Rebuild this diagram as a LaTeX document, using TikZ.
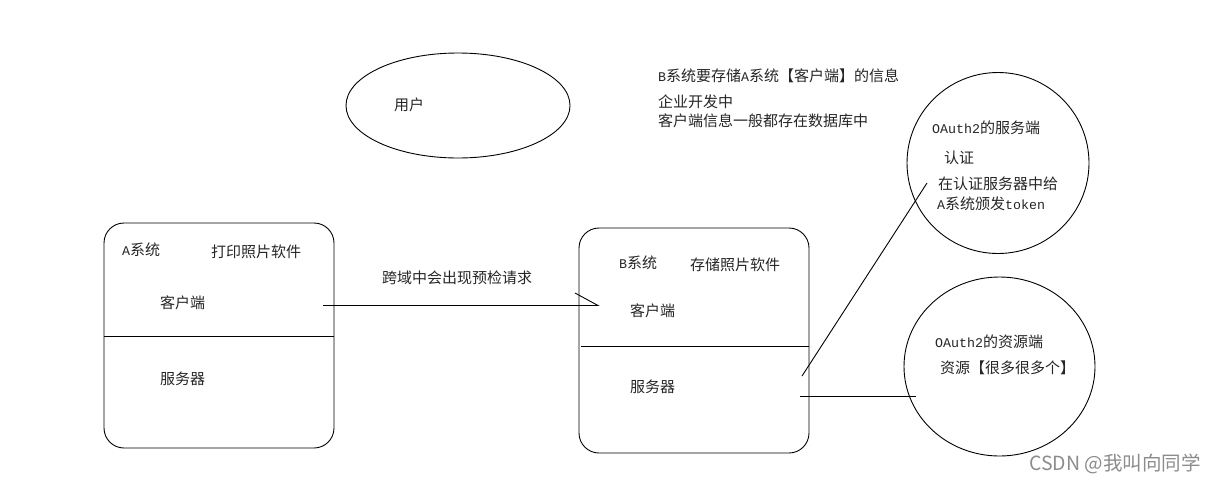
\documentclass[tikz,border=0pt]{standalone}
\usepackage{fontspec}
\usetikzlibrary{shapes.geometric}
\setmainfont{Noto Sans CJK SC}
\newfontfamily\latinf{Liberation Mono}
\newcommand{\Lt}[1]{{\latinf\fontsize{13.3pt}{14pt}\selectfont #1}}
\tikzset{
 label/.style={font=\fontsize{15pt}{16pt}\selectfont,inner sep=0pt,anchor=west,text=black!85},
 conn/.style={draw=black,line width=0.9pt},
 sysbox/.style={draw=black,line width=0.9pt,rounded corners=20pt},
 oval/.style={draw=black,line width=0.9pt,ellipse,inner sep=0pt,anchor=center},
 mark text/.style={font=\fontsize{19.5pt}{21pt}\selectfont,inner sep=0pt,anchor=west,text=black!45}
}
\begin{document}
\begin{tikzpicture}[x=1pt,y=-1pt]
\useasboundingbox (0,0) rectangle (1215,483);
\fill[white] (0,0) rectangle (1215,483);
% ovals
\node[oval,minimum width=224pt,minimum height=105pt] (user) at (458,105.5) {};
\node[oval,minimum width=182pt,minimum height=181pt] (auth) at (998,163) {};
\node[oval,minimum width=191pt,minimum height=179pt] (res) at (999.5,366.5) {};
% systems
\draw[sysbox] (104,223) rectangle (334,448);
\draw[sysbox] (579,228) rectangle (809,453);
\coordinate (adivl) at (104,336);
\coordinate (adivr) at (334,336);
\coordinate (bdivl) at (581,346);
\coordinate (bdivr) at (809,346);
\draw[conn] (adivl) -- (adivr);
\draw[conn] (bdivl) -- (bdivr);
% connectors
\coordinate (reqs) at (323,305.5);
\coordinate (reqe) at (598,305.5);
\coordinate (reqh) at (575,293);
\draw[conn] (reqs) -- (reqe) -- (reqh);
\coordinate (bauth) at (802,376);
\coordinate (cauth) at (927,183);
\draw[conn] (bauth) -- (cauth);
\coordinate (bres) at (800,396.5);
\coordinate (cres) at (916,396.5);
\draw[conn] (bres) -- (cres);
% texts
\node[label] (t1) at (394,105) {用户};
\node[label] (t2) at (658,76) {\Lt{B}系统要存储\Lt{A}系统【客户端】的信息};
\node[label] (t3) at (658,102) {企业开发中};
\node[label] (t4) at (658,121) {客户端信息一般都存在数据库中};
\node[label] (t5) at (932,128) {\Lt{OAuth2}的服务端};
\node[label] (t6) at (944,158) {认证};
\node[label] (t7) at (938,184) {在认证服务器中给};
\node[label] (t8) at (937,204) {\Lt{A}系统颁发\Lt{token}};
\node[label] (t9) at (935,342) {\Lt{OAuth2}的资源端};
\node[label] (t10) at (940,368) {资源【很多很多个】};
\node[label] (t11) at (122,250) {\Lt{A}系统};
\node[label] (t12) at (211,252) {打印照片软件};
\node[label] (t13) at (160,303) {客户端};
\node[label] (t14) at (160,379) {服务器};
\node[label] (t15) at (382,278) {跨域中会出现预检请求};
\node[label] (t16) at (619,263) {\Lt{B}系统};
\node[label] (t17) at (690,265) {存储照片软件};
\node[label] (t18) at (630,311) {客户端};
\node[label] (t19) at (630,387) {服务器};
\node[mark text] (wm) at (1029,464) {CSDN @我叫向同学};
\end{tikzpicture}
\end{document}
